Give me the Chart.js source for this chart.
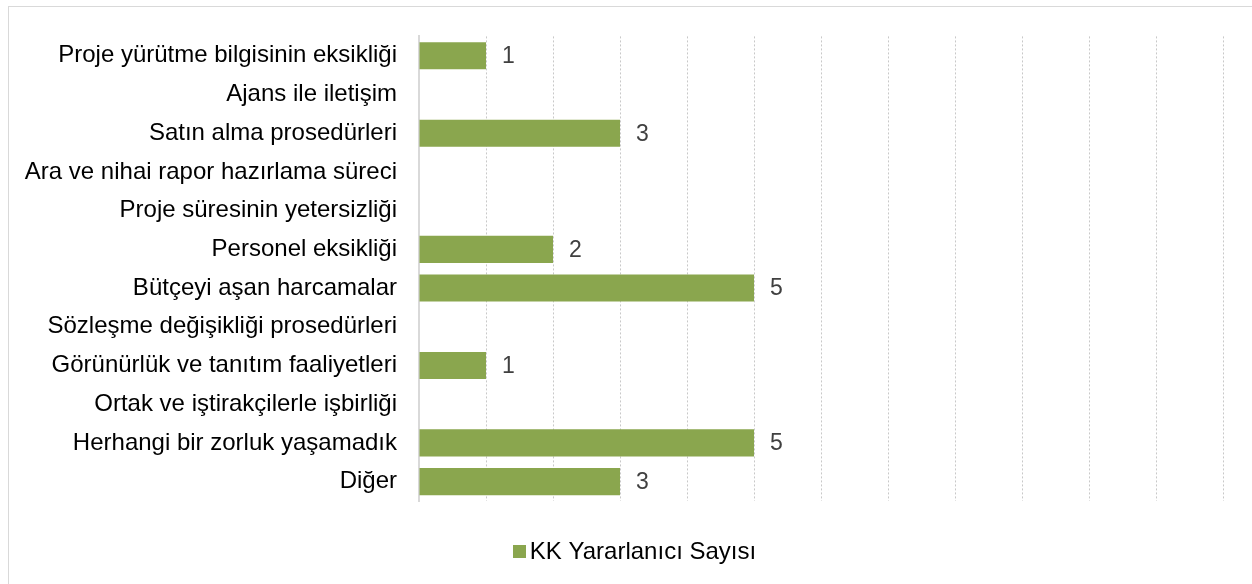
<!DOCTYPE html>
<html>
<head>
<meta charset="utf-8">
<script src="https://cdn.jsdelivr.net/npm/chart.js@4"></script>
<style>
	html, body { margin: 0; padding: 0; background: #fff; overflow: hidden; }
	#wrap { position: absolute; left: 0; top: 0; width: 1252px; height: 584px; }
</style>
</head>
<body>
<div id="wrap"><canvas id="chart" width="1252" height="584"></canvas></div>
<script>
	// Kategoriler ve değerler
	const categories = [
		'Proje yürütme bilgisinin eksikliği',
		'Ajans ile iletişim',
		'Satın alma prosedürleri',
		'Ara ve nihai rapor hazırlama süreci',
		'Proje süresinin yetersizliği',
		'Personel eksikliği',
		'Bütçeyi aşan harcamalar',
		'Sözleşme değişikliği prosedürleri',
		'Görünürlük ve tanıtım faaliyetleri',
		'Ortak ve iştirakçilerle işbirliği',
		'Herhangi bir zorluk yaşamadık',
		'Diğer'
	];
	const seriesName = 'KK Yararlanıcı Sayısı';
	const values = [1, 0, 3, 0, 0, 2, 5, 0, 1, 0, 5, 3];
	const xMin = 0;
	const xMax = 12;
	const xStep = 1;

	const font = "'Liberation Sans', Arial, sans-serif";
	const barColor = '#8aa64e';

	// Dış çerçeve
	const frame = {
		id: 'frame',
		beforeDraw(chart) {
			const c = chart.ctx;
			c.save();
			c.strokeStyle = '#d9d9d9';
			c.lineWidth = 1;
			c.strokeRect(8.5, 6.5, 1400, 700);
			c.restore();
		}
	};

	// Değer etiketleri
	const valueLabels = {
		id: 'valueLabels',
		afterDatasetsDraw(chart) {
			const c = chart.ctx;
			const meta = chart.getDatasetMeta(0);
			c.save();
			c.font = '23px ' + font;
			c.fillStyle = '#404040';
			c.textAlign = 'left';
			c.textBaseline = 'middle';
			meta.data.forEach(function (bar, i) {
				const v = values[i];
				if (!v) {
					return;
				}
				c.fillText(String(v), bar.x + 16, bar.y + 1);
			});
			c.restore();
		}
	};

	// Alt lejant (kutu ile metin arası dar)
	const bottomLegend = {
		id: 'bottomLegend',
		afterDraw(chart) {
			const c = chart.ctx;
			const label = chart.data.datasets[0].label;
			c.save();
			c.font = '24px ' + font;
			const tw = c.measureText(label).width;
			const box = 13;
			const gap = 4;
			const total = box + gap + tw;
			const x0 = 634.5 - total / 2;
			const yc = 551;
			c.fillStyle = chart.data.datasets[0].backgroundColor;
			c.fillRect(Math.round(x0), yc - 6, box, box);
			c.fillStyle = '#000';
			c.textAlign = 'left';
			c.textBaseline = 'middle';
			c.fillText(label, x0 + box + gap, yc + 1);
			c.restore();
		}
	};

	new Chart(document.getElementById('chart'), {
		type: 'bar',
		data: {
			labels: categories,
			datasets: [{
				label: seriesName,
				data: values,
				backgroundColor: barColor,
				borderWidth: 0,
				barPercentage: 0.7,
				categoryPercentage: 1
			}]
		},
		options: {
			indexAxis: 'y',
			responsive: false,
			animation: false,
			layout: {
				padding: { left: 0, right: 29, top: 35, bottom: 0 }
			},
			scales: {
				x: {
					min: xMin,
					max: xMax,
					ticks: { display: false, stepSize: xStep },
					grid: { color: '#c8c8c8', lineWidth: 1, drawTicks: false },
					border: { display: false, dash: [2, 2] },
					afterFit: function (scale) {
						scale.height = 83;
					}
				},
				y: {
					ticks: {
						color: '#000',
						font: { family: font, size: 24 },
						padding: 22
					},
					grid: { display: false, drawTicks: false },
					border: { display: true, color: '#d9d9d9', width: 2 },
					afterFit: function (scale) {
						scale.width = 419;
					}
				}
			},
			plugins: {
				legend: { display: false },
				tooltip: { enabled: false }
			}
		},
		plugins: [frame, valueLabels, bottomLegend]
	});
</script>
</body>
</html>
